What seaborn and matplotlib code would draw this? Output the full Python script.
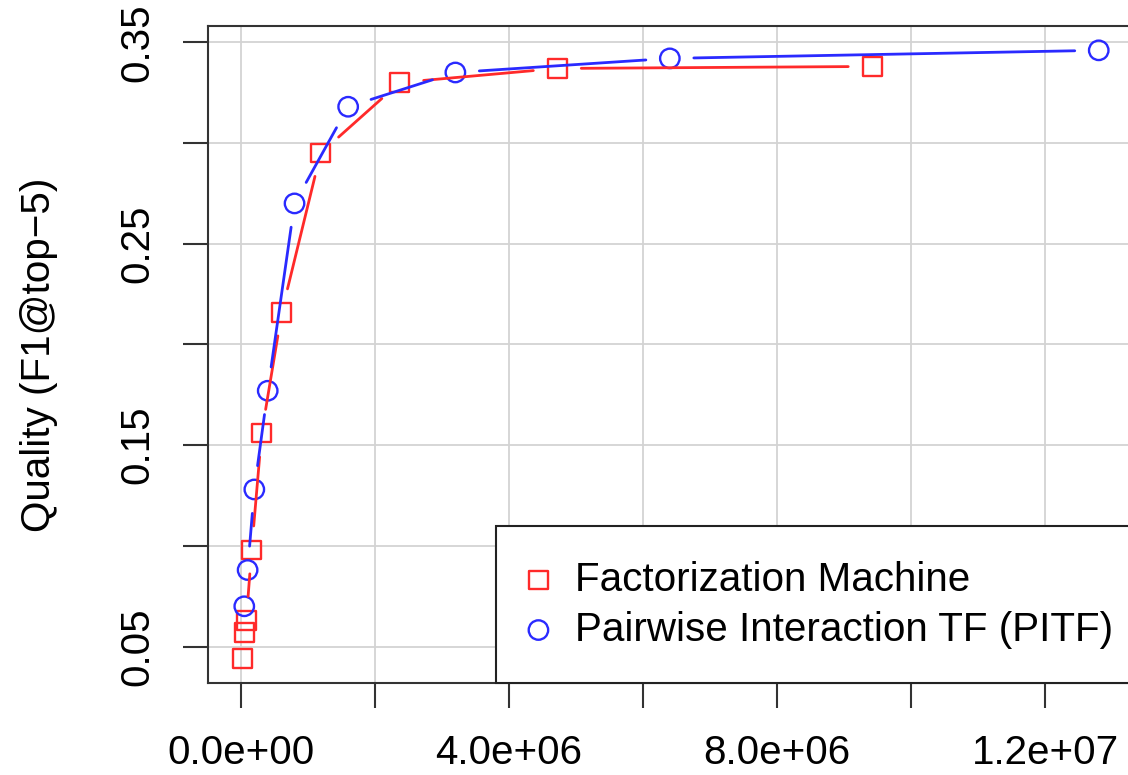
import numpy as np
import pandas as pd
import matplotlib
matplotlib.use("Agg")
import matplotlib.pyplot as plt
import seaborn as sns

# values
fm_x = [0.02e6, 0.05e6, 0.08e6, 0.16e6, 0.31e6, 0.61e6, 1.19e6, 2.37e6, 4.72e6, 9.42e6]
fm_y = [0.044, 0.057, 0.063, 0.098, 0.156, 0.216, 0.295, 0.330, 0.337, 0.338]
pitf_x = [0.05e6, 0.1e6, 0.2e6, 0.4e6, 0.8e6, 1.6e6, 3.2e6, 6.4e6, 12.8e6]
pitf_y = [0.070, 0.088, 0.128, 0.177, 0.270, 0.318, 0.335, 0.342, 0.346]

fm_label = "Factorization Machine"
pitf_label = "Pairwise Interaction TF (PITF)"
ylabel = "Quality (F1@top\u22125)"

x_ticks = np.arange(0, 1.2e7 + 1, 2e6)
x_ticklabels = ["0.0e+00", "", "4.0e+06", "", "8.0e+06", "", "1.2e+07"]
y_ticks = [0.05, 0.10, 0.15, 0.20, 0.25, 0.30, 0.35]
y_ticklabels = ["0.05", "", "0.15", "", "0.25", "", "0.35"]

sns.set_style("white")
plt.rcParams["font.family"] = ["Liberation Sans", "DejaVu Sans"]
plt.rcParams["text.color"] = "black"
plt.rcParams["axes.labelcolor"] = "black"
FS = 29.1

fig = plt.figure(figsize=(11.28, 7.75), dpi=100)
ax = fig.add_axes([208 / 1128, 1 - 683 / 775, 925 / 1128, 657 / 775])

# R-style 4% padding around the data range
allx = np.array(fm_x + pitf_x)
ally = np.array(fm_y + pitf_y)
xr = allx.max() - allx.min()
yr = ally.max() - ally.min()
xlim = (allx.min() - 0.04 * xr, allx.max() + 0.04 * xr)
ylim = (ally.min() - 0.04 * yr, ally.max() + 0.04 * yr)
ax.set_xlim(*xlim)
ax.set_ylim(*ylim)


def gapped(xs, ys, gap=24):
    # line segments that stop short of the points, like R's type="b"
    pts = ax.transData.transform(np.column_stack([xs, ys]))
    inv = ax.transData.inverted()
    rows = []
    for i in range(len(pts) - 1):
        d = pts[i + 1] - pts[i]
        L = np.hypot(*d)
        if L <= 2 * gap:
            continue
        u = d / L
        a, b = inv.transform([pts[i] + u * gap, pts[i + 1] - u * gap])
        rows += [(i, a[0], a[1]), (i, b[0], b[1])]
    return pd.DataFrame(rows, columns=["seg", "x", "y"])


ax.grid(True, color="#d3d3d3", lw=1.3)
ax.set_axisbelow(True)

for xs, ys, col in [(fm_x, fm_y, "#ff2a2a"), (pitf_x, pitf_y, "#2a2aff")]:
    seg = gapped(xs, ys)
    sns.lineplot(data=seg, x="x", y="y", units="seg", estimator=None, sort=False,
                 color=col, lw=2.0, ax=ax, legend=False)

sns.scatterplot(x=fm_x, y=fm_y, marker="s", s=13.5 ** 2, facecolor="none",
                edgecolor="#ff2a2a", linewidth=1.7, label=fm_label, ax=ax)
sns.scatterplot(x=pitf_x, y=pitf_y, marker="o", s=14 ** 2, facecolor="none",
                edgecolor="#2a2aff", linewidth=1.7, label=pitf_label, ax=ax)

ax.set_xlim(*xlim)
ax.set_ylim(*ylim)
ax.set_xticks(x_ticks)
ax.set_xticklabels(x_ticklabels)
ax.set_yticks(y_ticks)
ax.set_yticklabels(y_ticklabels, rotation=90, va="center")
ax.tick_params(axis="both", direction="out", length=18, width=1.5, color="#333333",
               labelcolor="black", labelsize=FS, pad=19, left=True, bottom=True)
ax.set_xlabel("")
ax.set_ylabel(ylabel, fontsize=FS)
ax.yaxis.set_label_coords((58 - 208) / 925, 0.5)

for sp in ax.spines.values():
    sp.set_color("#333333")
    sp.set_linewidth(1.5)

leg = ax.legend(loc="lower left", bbox_to_anchor=((496 - 208) / 925, 0),
                borderaxespad=0, fontsize=FS, frameon=True,
                fancybox=False, edgecolor="#222222", framealpha=1,
                handletextpad=0.7, borderpad=0.85, labelspacing=0.3, handlelength=0.4)
leg.get_frame().set_linewidth(1.5)

fig.savefig("out.png", dpi=100)
